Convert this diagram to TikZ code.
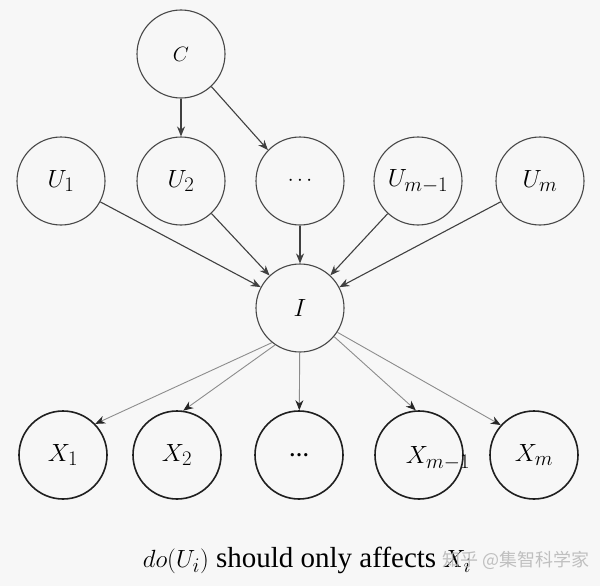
\documentclass[tikz,border=0pt]{standalone}
\usepackage{fontspec}
\setmainfont{Liberation Serif}
\newfontfamily\cjkfont{Noto Sans CJK SC}
\usetikzlibrary{arrows.meta}
\begin{document}
\begin{tikzpicture}[x=1pt,y=-1pt,
  vnode/.style={circle,draw=black!72,line width=1.1pt,minimum size=88pt,inner sep=0pt,font=\fontsize{29}{30}\selectfont},
  xnode/.style={circle,draw=black!88,line width=1.6pt,minimum size=88pt,inner sep=0pt,font=\fontsize{29}{30}\selectfont},
  lbl/.style={inner sep=0pt,font=\fontsize{29}{30}\selectfont},
  toparrow/.style={draw=black!75,line width=1.1pt,-{Stealth[length=10pt,width=8pt]}},
  botarrow/.style={draw=black!45,line width=0.9pt,-{Stealth[length=10pt,width=8pt,color=black!85]}}]
\useasboundingbox (0,0) rectangle (600,586);
\fill[white!97!black] (0,0) rectangle (600,586);
% top
\node[vnode,font=\fontsize{21}{24}\selectfont] (C) at (181,54) {$C$};
\node[vnode] (U1) at (61,181) {$U_1$};
\node[vnode] (U2) at (181,181) {$U_2$};
\node[vnode,font=\fontsize{22}{24}\selectfont] (Ud) at (300,181) {$\cdots$};
\node[vnode] (Um1) at (418,181) {$U_{m-1}$};
\node[vnode] (Um) at (540,181) {$U_m$};
\node[vnode] (I) at (300,308) {$I$};
% bottom
\node[xnode] (X1) at (63,455) {$X_1$};
\node[xnode] (X2) at (177,455) {$X_2$};
\node[xnode,font=\fontsize{20}{24}\selectfont] (Xd) at (299,455) {\textbf{…}};
\node[xnode] (Xm1) at (419,455) {};
\node[lbl] (Xm1l) at (438,458) {$X_{m-1}$};
\node[xnode] (Xm) at (534,455) {$X_m$};
% arrows
\draw[toparrow] (C) -- (U2);
\draw[toparrow] (C.313) -- (Ud.136);
\foreach \n in {U1,U2,Ud,Um1,Um} \draw[toparrow] (\n) -- (I);
\draw[botarrow] (I.231) -- (X1.44);
\draw[botarrow] (I.236) -- (X2.82);
\draw[botarrow] (I) -- (Xd);
\draw[botarrow] (I.320) -- (Xm1.94);
\draw[botarrow] (I.327) -- (Xm.138);
% caption
\node[inner sep=0pt,font=\fontsize{29}{32}\selectfont] (cap) at (307,560) {$do(U_i)$ should only affects $X_i$};
\node[inner sep=0pt,font=\cjkfont\fontsize{18}{20}\selectfont,text=black!30,opacity=0.8] (wm) at (516,560) {知乎 @集智科学家};
\end{tikzpicture}
\end{document}
